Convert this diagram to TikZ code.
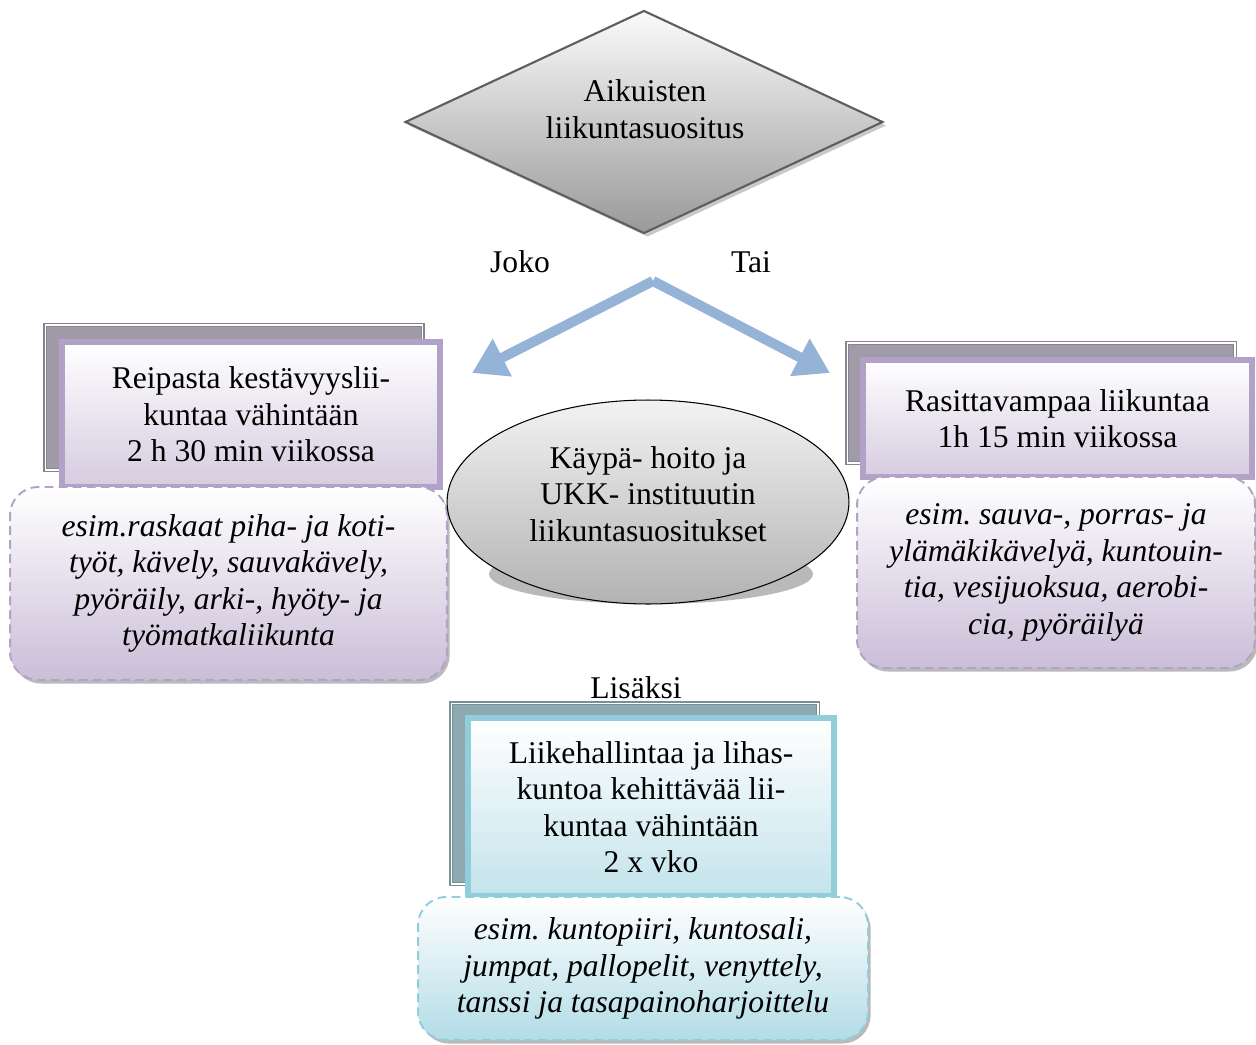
\documentclass[tikz,border=0pt]{standalone}
\usepackage{fontspec}
\setmainfont{Liberation Serif}
\usepackage{tikz}
\definecolor{lila}{HTML}{B3A2C7}
\definecolor{lilaback}{HTML}{A09AA9}
\definecolor{aqua}{HTML}{92CDDC}
\definecolor{aquaback}{HTML}{8FA9B2}
\definecolor{arrowblue}{HTML}{95B3D7}
\definecolor{edgegray}{HTML}{5E5E5E}
\usetikzlibrary{shapes.geometric, arrows.meta, positioning, shadows}

\begin{document}
\frenchspacing
\begin{tikzpicture}[
    x=0.02cm, y=-0.02cm,
    txt/.style={font=\fontsize{18}{20.8}\selectfont, align=center},
    card/.style={draw=#1, line width=3.2pt, top color=white,
                 bottom color=#1!55!white, inner sep=2pt, txt},
    backcard/.style={draw=#1!85!black, line width=0.8pt, double=white,
                     double distance=0.6pt, fill=#1},
    examples/.style={draw=#1, dash pattern=on 5pt off 3pt, line width=1.1pt,
                     rounded corners=16pt, top color=white, bottom color=#1!70!white,
                     drop shadow={shadow xshift=1.5pt, shadow yshift=-2pt,
                                  fill=black!45, opacity=.6},
                     txt, font=\fontsize{18}{20.8}\selectfont\itshape},
    branch/.style={-{Triangle[length=0.68cm, width=0.8cm]}, line width=0.2cm, arrowblue}
]
    \useasboundingbox (0,0) rectangle (1256,1044);

    % Top diamond
    \node[diamond, draw=edgegray, line width=1.2pt, top color=gray!3, bottom color=gray!80,
          shape aspect=2.14, minimum width=9.56cm, minimum height=4.46cm, inner sep=0pt,
          drop shadow={shadow xshift=2pt, shadow yshift=-2pt, fill=black!30, opacity=.7}]
          (aikuiset) at (644,122) {};
    \node[txt] (aikuisetteksti) at (645,109) {Aikuisten\\liikuntasuositus};

    \node[txt] (joko) at (520,262) {Joko};
    \node[txt] (tai) at (751,262) {Tai};

    % Branching arrows
    \coordinate (haara) at (653,281);
    \coordinate (jokokarki) at (472,373);
    \coordinate (taikarki) at (830,373);
    \draw[branch] (haara) -- (jokokarki);
    \draw[branch] (haara) -- (taikarki);

    % Left column
    \node[backcard=lilaback, minimum width=7.56cm, minimum height=2.9cm] (reipasback) at (234,397.5) {};
    \node[card=lila, minimum width=7.56cm, minimum height=2.9cm] (reipas) at (251,414.5) {
        Reipasta kestävyyslii-\\kuntaa vähintään\\2 h 30 min viikossa
    };
    \node[examples=lila, minimum width=8.74cm, minimum height=3.86cm] (reipasesim) at (228.5,583.5) {
        esim.raskaat piha- ja koti-\\työt, kävely, sauvakävely,\\pyöräily, arki-, hyöty- ja\\työmatkaliikunta
    };

    % Right column
    \node[backcard=lilaback, minimum width=7.76cm, minimum height=2.4cm] (rasittavaback) at (1041,403) {};
    \node[card=lila, minimum width=7.78cm, minimum height=2.34cm] (rasittava) at (1057.5,418.5) {
        Rasittavampaa liikuntaa\\1h 15 min viikossa
    };
    \node[examples=lila, minimum width=7.96cm, minimum height=3.82cm] (rasittavaesim) at (1056,572.5) {
        esim. sauva-, porras- ja\\ylämäkikävelyä, kuntouin-\\tia, vesijuoksua, aerobi-\\cia, pyöräilyä
    };

    % Middle ellipse
    \node[ellipse, fill=gray!55, minimum width=6.48cm, minimum height=1.2cm] (hoitovarjo) at (651,574) {};
    \node[ellipse, draw=black, line width=0.6pt, top color=gray!10, bottom color=gray!60,
          minimum width=8.04cm, minimum height=4.08cm] (hoito) at (648,502) {};
    \node[txt] (hoitoteksti) at (648,494) {Käypä- hoito ja\\UKK- instituutin\\liikuntasuositukset};

    % Bottom
    \node[txt] (lisaksi) at (636,688) {Lisäksi};
    \node[backcard=aquaback, minimum width=7.34cm, minimum height=3.62cm] (lihasback) at (634.5,793.5) {};
    \node[card=aqua, minimum width=7.32cm, minimum height=3.56cm] (lihas) at (651,807) {
        Liikehallintaa ja lihas-\\kuntoa kehittävää lii-\\kuntaa vähintään\\2 x vko
    };
    \node[examples=aqua, minimum width=9.0cm, minimum height=2.86cm] (lihasesim) at (643,968.5) {
        esim. kuntopiiri, kuntosali,\\jumpat, pallopelit, venyttely,\\tanssi ja tasapainoharjoittelu
    };
\end{tikzpicture}
\end{document}
